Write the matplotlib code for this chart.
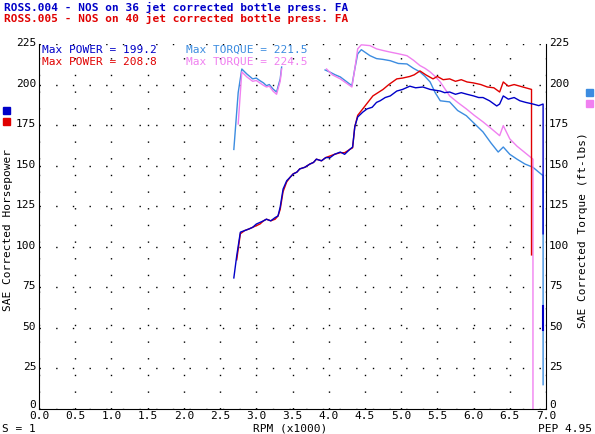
import matplotlib
matplotlib.use('Agg')
import matplotlib.pyplot as plt
import matplotlib.transforms as mtransforms

# ---- data (RPM in thousands) ----
hp4_rpm = [2.69, 2.73, 2.78, 2.84, 2.90, 2.95, 3.00, 3.05, 3.10, 3.14, 3.20, 3.26, 3.30, 3.33, 3.37,
           3.42, 3.47, 3.51, 3.56, 3.60, 3.67, 3.74, 3.79, 3.83, 3.90, 3.96, 4.02, 4.08, 4.16, 4.22,
           4.29, 4.33, 4.36, 4.40, 4.47, 4.53, 4.60, 4.66, 4.71, 4.78, 4.85, 4.94, 5.02, 5.12, 5.20,
           5.30, 5.40, 5.54, 5.60, 5.67, 5.75, 5.83, 5.91, 6.00, 6.07, 6.13, 6.22, 6.32, 6.36, 6.41,
           6.48, 6.56, 6.64, 6.72, 6.82, 6.90, 6.96, 6.96]
hp4 = [80.8, 94.5, 109, 110, 111, 112, 114, 115, 116, 117, 116, 118, 119, 124.5, 135.6,
       140.7, 143, 144.9, 146, 148, 149, 151, 152, 154, 153, 155, 155, 157, 158.4, 157,
       160, 161.5, 174, 180, 183, 185, 186, 189, 190, 192, 193, 196, 197, 199, 198,
       198.5, 197, 196, 195, 195.4, 194, 195, 194, 193, 192, 192, 190, 186.8, 188, 193,
       191, 192, 190, 189, 188, 187, 188, 108]

hp5_rpm = [2.73, 2.78, 2.84, 2.90, 2.95, 3.00, 3.05, 3.10, 3.14, 3.20, 3.26, 3.30, 3.33, 3.37,
           3.42, 3.47, 3.51, 3.56, 3.60, 3.67, 3.74, 3.79, 3.83, 3.90, 3.96, 4.02, 4.08, 4.16, 4.22,
           4.29, 4.33, 4.36, 4.40, 4.47, 4.54, 4.61, 4.68, 4.75, 4.83, 4.94, 5.02, 5.12, 5.18, 5.26,
           5.34, 5.44, 5.50, 5.58, 5.67, 5.75, 5.83, 5.91, 6.00, 6.10, 6.19, 6.28, 6.36, 6.41, 6.48,
           6.56, 6.64, 6.72, 6.80, 6.80]
hp5 = [92, 108, 110, 111, 112, 113, 114, 116, 117, 116, 117, 119, 123, 134,
       140, 143, 145, 146, 148, 149, 151, 152, 154, 153, 155, 156, 157, 158, 158,
       160, 161, 174, 181, 185, 189, 193, 195, 197, 200, 203.5, 204, 205, 206, 208.4,
       206, 203.5, 205, 203, 203.5, 202, 203, 201.6, 201, 200, 198.5, 198, 195.4, 201.6, 199,
       200, 199, 198, 197, 95]

tq4_seg1_rpm = [2.69, 2.75, 2.80, 2.87, 2.95, 3.00, 3.05, 3.10, 3.14, 3.18, 3.23, 3.28, 3.33, 3.35]
tq4_seg1 = [160, 195, 209.6, 206.5, 203.5, 204, 202.4, 201, 199.3, 200, 197.3, 195.4, 203.5, 210.8]
tq4_seg2_rpm = [3.95, 4.02, 4.09, 4.16, 4.24, 4.32, 4.36, 4.40, 4.45, 4.57, 4.66, 4.75, 4.85, 4.96,
                5.08, 5.17, 5.26, 5.33, 5.40, 5.47, 5.54, 5.67, 5.78, 5.90, 6.01, 6.13, 6.24, 6.34,
                6.41, 6.50, 6.60, 6.71, 6.82, 6.90, 6.96, 6.96]
tq4_seg2 = [209, 207.6, 206, 204.7, 202, 199.3, 209.6, 218.9, 221.5, 217.8, 216, 215.5, 214.7, 213,
            212.7, 210, 207.8, 205, 201.6, 195, 190, 189.3, 184, 180.8, 176, 170.8, 164, 158.4,
            161.5, 157, 154, 151, 149, 146, 143.8, 15]

tq5_seg1_rpm = [2.75, 2.80, 2.87, 2.95, 3.00, 3.05, 3.10, 3.14, 3.18, 3.23, 3.28, 3.33, 3.35]
tq5_seg1 = [175.7, 207.8, 204.7, 202, 202.5, 201, 199.5, 198.5, 199, 196, 194, 202, 209.6]
tq5_seg2_rpm = [3.97, 4.05, 4.16, 4.24, 4.32, 4.36, 4.40, 4.45, 4.57, 4.66, 4.75, 4.85, 4.96,
                5.08, 5.17, 5.26, 5.33, 5.40, 5.47, 5.54, 5.67, 5.78, 5.90, 6.01, 6.13, 6.24, 6.36,
                6.41, 6.50, 6.60, 6.71, 6.82, 6.82]
tq5_seg2 = [209.6, 206, 203.5, 201, 198.5, 209.6, 222, 224.5, 224, 222, 221, 220, 219,
            217.8, 215, 211.7, 210, 207.8, 205, 201.6, 193, 189, 185, 181, 177, 173, 168.5,
            174.7, 166.5, 162, 158, 154, 0]

# short dark-blue stub drawn on the torque drop
stub_rpm = [6.96, 6.96]
stub_val = [49, 63.5]

C_HP4 = '#0000c8'
C_HP5 = '#e00000'
C_TQ4 = '#3c8ce0'
C_TQ5 = '#f080f0'

FONT = 'DejaVu Sans Mono'
plt.rcParams['font.family'] = FONT

fig = plt.figure(figsize=(5.95, 4.35), dpi=100)
ax = fig.add_axes([39/595, 25/435, 507/595, 365/435])

ax.plot(tq4_seg1_rpm, tq4_seg1, color=C_TQ4, lw=1)
ax.plot(tq4_seg2_rpm, tq4_seg2, color=C_TQ4, lw=1)
ax.plot(tq5_seg1_rpm, tq5_seg1, color=C_TQ5, lw=1)
ax.plot(tq5_seg2_rpm, tq5_seg2, color=C_TQ5, lw=1)
ax.plot(hp5_rpm, hp5, color=C_HP5, lw=1)
ax.plot(hp4_rpm, hp4, color=C_HP4, lw=1)
ax.plot(stub_rpm, stub_val, color=C_HP4, lw=1.5)

ax.set_xlim(0, 7)
ax.set_ylim(0, 225)
xt = [i * 0.5 for i in range(15)]
yt = list(range(0, 226, 25))
ax.set_xticks(xt)
ax.set_xticklabels([f'{v:.1f}' for v in xt])
ax.set_yticks(yt)
ax.tick_params(length=0, labelsize=8)
ax.tick_params(axis='x', pad=1)
ax.tick_params(axis='y', labelright=True, right=False, pad=2)

# y labels sit a few pixels above their value, as on the sheet
for val, t in zip(yt, ax.yaxis.get_major_ticks()):
    shift = 6 if val == 0 else 3
    up = mtransforms.ScaledTranslation(0, shift / 100, fig.dpi_scale_trans)
    t.label1.set_transform(ax.get_yaxis_text1_transform(2)[0] + up)
    t.label2.set_transform(ax.get_yaxis_text2_transform(2)[0] + up)

ax.grid(True, color='black', linestyle=(0, (1, 11)), linewidth=1)
ax.spines['top'].set_visible(False)

fig.text(8/595, 1 - 230/435, 'SAE Corrected Horsepower', rotation=90, fontsize=8,
         ha='center', va='center')
fig.text(583/595, 1 - 230/435, 'SAE Corrected Torque (ft-lbs)', rotation=90, fontsize=8,
         ha='center', va='center')

fig.text(4/595, 1 - 7/435, 'ROSS.004 - NOS on 36 jet corrected bottle press. FA',
         color=C_HP4, fontsize=8, va='center', weight='bold')
fig.text(4/595, 1 - 18/435, 'ROSS.005 - NOS on 40 jet corrected bottle press. FA',
         color=C_HP5, fontsize=8, va='center', weight='bold')

fig.text(42/595, 1 - 50/435, 'Max POWER = 199.2', color=C_HP4, fontsize=8, va='center')
fig.text(42/595, 1 - 62/435, 'Max POWER = 208.8', color=C_HP5, fontsize=8, va='center')
fig.text(186/595, 1 - 50/435, 'Max TORQUE = 221.5', color=C_TQ4, fontsize=8, va='center')
fig.text(186/595, 1 - 62/435, 'Max TORQUE = 224.5', color=C_TQ5, fontsize=8, va='center')

fig.text(2/595, 1 - 429/435, 'S = 1', fontsize=8, va='center')
fig.text(290/595, 1 - 429/435, 'RPM (x1000)', fontsize=8, va='center', ha='center')
fig.text(592/595, 1 - 429/435, 'PEP 4.95', fontsize=8, va='center', ha='right')

# colour keys beside the axis titles
for (x0, y0, c) in [(3, 108, C_HP4), (3, 119, C_HP5), (586, 90, C_TQ4), (586, 101, C_TQ5)]:
    fig.patches.append(plt.Rectangle((x0/595, 1 - (y0 + 7)/435), 7/595, 7/435,
                                     transform=fig.transFigure, color=c))

fig.savefig('out.png', dpi=100)
